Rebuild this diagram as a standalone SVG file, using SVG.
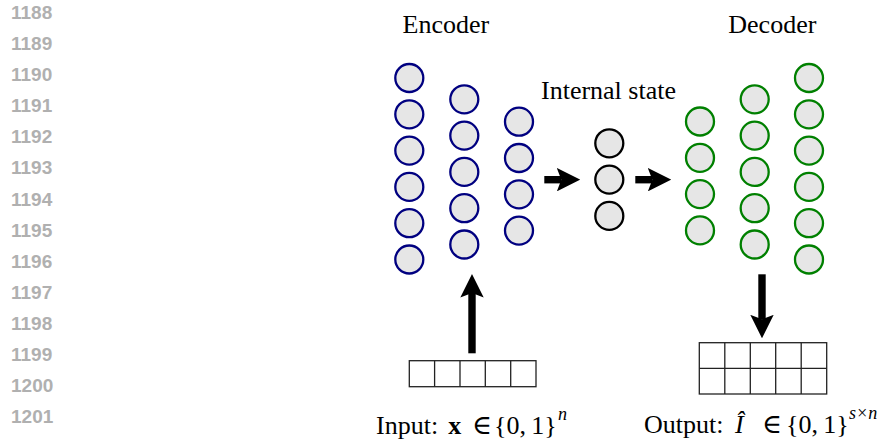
<svg xmlns="http://www.w3.org/2000/svg" width="887" height="448" viewBox="0 0 887 448">
<style>
.ln{font-family:"Liberation Sans",Arial,sans-serif;font-weight:bold;font-size:19px;fill:#b0b0b0}
.t{font-family:"Liberation Serif","DejaVu Serif",serif;font-size:26px;fill:#000}
.sup{font-size:18px;font-style:italic}
.el{font-size:27px}
.enc{fill:#e6e6e6;stroke:#000080;stroke-width:2.3}
.dec{fill:#e6e6e6;stroke:#008000;stroke-width:2.3}
.mid{fill:#e6e6e6;stroke:#000;stroke-width:2.3}
.arr{stroke:#000;stroke-width:7.4;fill:none;marker-end:url(#ah)}
.grid{fill:none;stroke:#222;stroke-width:1.3}
</style>
<defs>
<marker id="ah" viewBox="0 0 23.5 23.4" markerWidth="23.5" markerHeight="23.4" refX="4.5" refY="11.7" orient="auto" markerUnits="userSpaceOnUse">
<path d="M0,0 L23.5,11.7 L0,23.4 L4.5,11.7 Z" fill="#000"/>
</marker>
</defs>
<rect width="887" height="448" fill="#fff"/>
<g id="line-numbers">
<text class="ln" x="11" y="19">1188</text>
<text class="ln" x="11" y="50.1">1189</text>
<text class="ln" x="11" y="81.2">1190</text>
<text class="ln" x="11" y="112.2">1191</text>
<text class="ln" x="11" y="143.3">1192</text>
<text class="ln" x="11" y="174.4">1193</text>
<text class="ln" x="11" y="205.5">1194</text>
<text class="ln" x="11" y="236.6">1195</text>
<text class="ln" x="11" y="267.6">1196</text>
<text class="ln" x="11" y="298.7">1197</text>
<text class="ln" x="11" y="329.8">1198</text>
<text class="ln" x="11" y="360.9">1199</text>
<text class="ln" x="11" y="392">1200</text>
<text class="ln" x="11" y="423">1201</text>
</g>
<g id="labels">
<text class="t" x="402.5" y="32.5">Encoder</text>
<text class="t" x="728.3" y="32.5">Decoder</text>
<text class="t" x="541" y="99">Internal state</text>
</g>
<g id="encoder">
<g id="enc-1-1"><circle class="enc" cx="409.3" cy="78" r="14"/></g>
<g id="enc-1-2"><circle class="enc" cx="409.3" cy="114.3" r="14"/></g>
<g id="enc-1-3"><circle class="enc" cx="409.3" cy="150.6" r="14"/></g>
<g id="enc-1-4"><circle class="enc" cx="409.3" cy="186.9" r="14"/></g>
<g id="enc-1-5"><circle class="enc" cx="409.3" cy="223.2" r="14"/></g>
<g id="enc-1-6"><circle class="enc" cx="409.3" cy="259.5" r="14"/></g>
<g id="enc-2-1"><circle class="enc" cx="464.3" cy="99.3" r="14"/></g>
<g id="enc-2-2"><circle class="enc" cx="464.3" cy="135.6" r="14"/></g>
<g id="enc-2-3"><circle class="enc" cx="464.3" cy="171.9" r="14"/></g>
<g id="enc-2-4"><circle class="enc" cx="464.3" cy="208.2" r="14"/></g>
<g id="enc-2-5"><circle class="enc" cx="464.3" cy="244.5" r="14"/></g>
<g id="enc-3-1"><circle class="enc" cx="519" cy="121.7" r="14"/></g>
<g id="enc-3-2"><circle class="enc" cx="519" cy="158" r="14"/></g>
<g id="enc-3-3"><circle class="enc" cx="519" cy="194.3" r="14"/></g>
<g id="enc-3-4"><circle class="enc" cx="519" cy="230.6" r="14"/></g>
</g>
<g id="internal-state">
<g id="state-1"><circle class="mid" cx="609.3" cy="143.3" r="14"/></g>
<g id="state-2"><circle class="mid" cx="609.3" cy="179.6" r="14"/></g>
<g id="state-3"><circle class="mid" cx="609.3" cy="215.9" r="14"/></g>
</g>
<g id="decoder">
<g id="dec-1-1"><circle class="dec" cx="700" cy="121.5" r="14"/></g>
<g id="dec-1-2"><circle class="dec" cx="700" cy="157.8" r="14"/></g>
<g id="dec-1-3"><circle class="dec" cx="700" cy="194.1" r="14"/></g>
<g id="dec-1-4"><circle class="dec" cx="700" cy="230.4" r="14"/></g>
<g id="dec-2-1"><circle class="dec" cx="754.7" cy="99.3" r="14"/></g>
<g id="dec-2-2"><circle class="dec" cx="754.7" cy="135.6" r="14"/></g>
<g id="dec-2-3"><circle class="dec" cx="754.7" cy="171.9" r="14"/></g>
<g id="dec-2-4"><circle class="dec" cx="754.7" cy="208.2" r="14"/></g>
<g id="dec-2-5"><circle class="dec" cx="754.7" cy="244.5" r="14"/></g>
<g id="dec-3-1"><circle class="dec" cx="809" cy="78" r="14"/></g>
<g id="dec-3-2"><circle class="dec" cx="809" cy="114.3" r="14"/></g>
<g id="dec-3-3"><circle class="dec" cx="809" cy="150.6" r="14"/></g>
<g id="dec-3-4"><circle class="dec" cx="809" cy="186.9" r="14"/></g>
<g id="dec-3-5"><circle class="dec" cx="809" cy="223.2" r="14"/></g>
<g id="dec-3-6"><circle class="dec" cx="809" cy="259.5" r="14"/></g>
</g>
<g id="input">
<rect class="grid" x="409.3" y="360.7" width="126.7" height="26"/>
<path class="grid" d="M434.6,360.7V386.7M460,360.7V386.7M485.3,360.7V386.7M510.7,360.7V386.7"/>
<text class="t" x="376" y="434">Input: <tspan x="448.3" font-weight="bold">x</tspan><tspan class="el" x="472">∈</tspan><tspan x="494">{0,&#8201;1}</tspan><tspan class="sup" x="558" y="420">n</tspan></text>
</g>
<g id="output">
<rect class="grid" x="699.3" y="342.7" width="127.4" height="51.3"/>
<path class="grid" d="M699.3,368.35H826.7M724.8,342.7V394M750.3,342.7V394M775.7,342.7V394M801.2,342.7V394"/>
<text class="t" x="644" y="433">Output: <tspan x="735" font-style="italic">Î</tspan><tspan class="el" x="762">∈</tspan><tspan x="786">{0,&#8201;1}</tspan><tspan class="sup" x="849" y="419">s×n</tspan></text>
</g>
<g id="connectors">
<line class="arr" x1="544.3" y1="179.7" x2="561.3" y2="179.7"/>
<line class="arr" x1="635.3" y1="179.7" x2="652.3" y2="179.7"/>
<line class="arr" x1="472" y1="353.3" x2="472" y2="293"/>
<line class="arr" x1="762" y1="274.3" x2="762" y2="319.3"/>
</g>
</svg>
